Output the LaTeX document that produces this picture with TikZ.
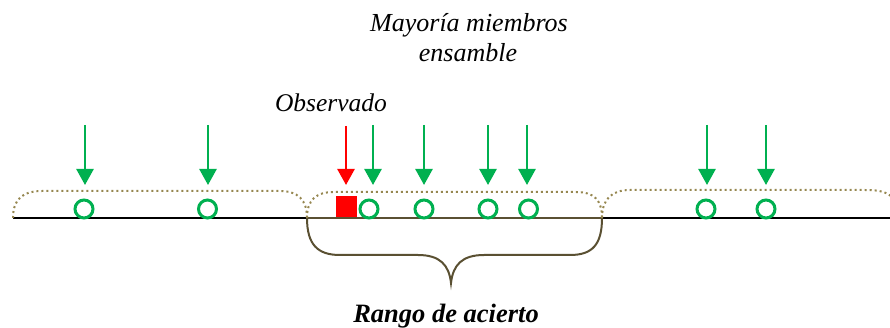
\documentclass[tikz,border=0pt]{standalone}
\usepackage{fontspec}
\setmainfont{Liberation Serif}
\usetikzlibrary{arrows.meta}
\definecolor{mygreen}{RGB}{0,176,80}
\definecolor{myred}{RGB}{255,0,0}
\definecolor{dotol}{RGB}{150,135,80}
\definecolor{braceol}{RGB}{90,80,50}
\tikzset{
  member/.style={circle,draw=mygreen,line width=3pt,minimum size=18pt,inner sep=0pt},
  obsbox/.style={rectangle,fill=myred,minimum size=21pt,inner sep=0pt},
  garrow/.style={draw=mygreen,line width=2.5pt,-{Triangle[length=16pt,width=17pt]}},
  rarrow/.style={draw=myred,line width=2.5pt,-{Triangle[length=16pt,width=17pt]}},
  dotband/.style={draw=dotol,line width=2pt,dash pattern=on 2pt off 3pt},
  brace/.style={draw=braceol,line width=2pt},
  lab/.style={font=\fontsize{26}{30}\selectfont\itshape,anchor=base,inner sep=0pt}
}
\begin{document}
\begin{tikzpicture}[x=1pt,y=-1pt]
\useasboundingbox (0,0) rectangle (890,328);
% axis
\coordinate (axL) at (13,218);
\coordinate (axR) at (890,218);
\coordinate (bL) at (307,218);
\coordinate (bR) at (602,218);
\draw[line width=2pt] (axL) -- (axR);
\draw[brace] (bL) -- (bR);
% dotted bands
\draw[dotband] (axL) .. controls (13,200) and (22,191) .. (42,191) -- (280,191) .. controls (298,191) and (307,200) .. (bL);
\draw[dotband] (bL) .. controls (307,200) and (316,192) .. (334,192) -- (576,192) .. controls (594,192) and (602,200) .. (bR);
\draw[dotband] (bR) .. controls (602,200) and (611,190) .. (630,190) -- (865,190) .. controls (880,190) and (887,192) .. (893,198);
% brace below
\coordinate (tip) at (451,283);
\draw[brace] (bL) .. controls (307,245) and (318,255) .. (340,255) -- (418,255) .. controls (440,255) and (449,265) .. (tip)
  .. controls (453,265) and (462,255) .. (484,255) -- (570,255) .. controls (592,255) and (602,245) .. (bR);
% members
\node[member] (c1) at (84,209) {};
\node[member] (c2) at (207.5,209) {};
\node[member] (c3) at (369,209) {};
\node[member] (c4) at (424,209) {};
\node[member] (c5) at (488,209) {};
\node[member] (c6) at (528.5,209) {};
\node[member] (c7) at (706,209) {};
\node[member] (c8) at (766,209) {};
\node[obsbox] (obs) at (346.5,206.5) {};
% arrows
\foreach \i/\x in {1/85,2/208,3/373,4/424,5/488,6/527,7/707,8/766}{
  \coordinate (t\i) at (\x,125);
  \coordinate (h\i) at (\x,185);
  \draw[garrow] (t\i) -- (h\i);
}
\coordinate (tr) at (346,126);
\coordinate (hr) at (346,185);
\draw[rarrow] (tr) -- (hr);
% labels
\node[lab,font=\fontsize{25.5}{30}\selectfont\itshape] (lobs) at (331,112) {Observado};
\node[lab] (lmay1) at (469,32) {Mayoría miembros};
\node[lab] (lmay2) at (468,62) {ensamble};
\node[lab,font=\fontsize{26.5}{30}\selectfont\bfseries\itshape] (lrango) at (446,322) {Rango de acierto};
\end{tikzpicture}
\end{document}
